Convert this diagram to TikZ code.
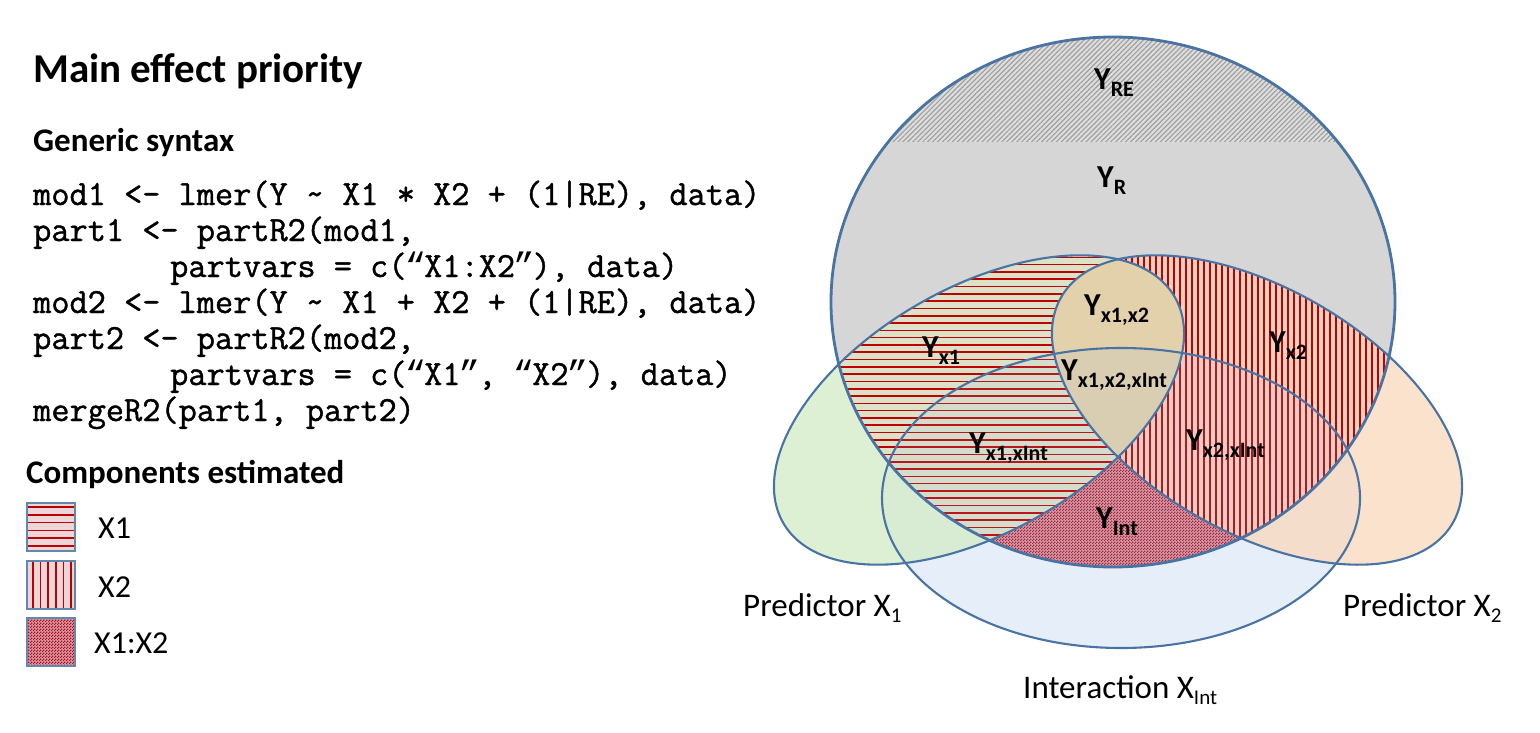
\documentclass[tikz,border=0pt]{standalone}
\usepackage{fontspec}
\setmainfont{Carlito}
\newfontfamily\codefont{Latin Modern Mono}[FakeBold=1.2]
\newfontfamily\quotefont{Liberation Mono}
\usepackage{tikz}
\usetikzlibrary{patterns,patterns.meta}
% colours
\definecolor{edgeblue}{RGB}{72,115,162}
\definecolor{respgray}{RGB}{214,214,214}
\definecolor{bandgray}{RGB}{222,222,222}
\definecolor{hatchgray}{RGB}{160,160,160}
\definecolor{xonegreen}{RGB}{211,235,198}
\definecolor{xtwopeach}{RGB}{250,216,188}
\definecolor{intblue}{RGB}{230,239,249}
\definecolor{inttint}{RGB}{150,185,225}
\definecolor{stripered}{RGB}{192,0,0}
\definecolor{xonebase}{RGB}{221,225,200}
\definecolor{xtwobase}{RGB}{244,210,194}
\definecolor{lenstan}{RGB}{227,209,172}
\definecolor{intbase}{RGB}{222,150,160}
\definecolor{checkred}{RGB}{165,15,35}
\definecolor{legendpink}{RGB}{236,214,216}
% fine checker for the interaction
\pgfdeclarepatternformonly{finecheck}{\pgfpointorigin}{\pgfqpoint{3pt}{3pt}}{\pgfqpoint{3pt}{3pt}}{
  \pgfpathrectangle{\pgfpointorigin}{\pgfqpoint{1.5pt}{1.5pt}}
  \pgfpathrectangle{\pgfqpoint{1.5pt}{1.5pt}}{\pgfqpoint{1.5pt}{1.5pt}}
  \pgfusepath{fill}}
% Y with a subscript, X with a subscript
\newcommand{\ysub}[1]{Y\raisebox{-7pt}{\fontsize{22}{22}\selectfont #1}}
\newcommand{\xsub}[1]{X\raisebox{-6pt}{\fontsize{21}{21}\selectfont #1}}
% curly quotes in a code cell
\newcommand{\oq}{\makebox[0.5em]{\quotefont “}}
\newcommand{\cq}{\makebox[0.5em]{\quotefont ”}}
\tikzset{
  outline/.style={draw=edgeblue, line width=2.1pt},
  redstripe/.style={draw=stripered, line width=1.6pt},
  ylab/.style={anchor=base west, inner sep=0pt, font=\fontsize{32}{32}\selectfont\bfseries},
  heading/.style={anchor=base west, inner sep=0pt, font=\fontsize{33}{33}\selectfont\bfseries},
  codeline/.style={anchor=base west, inner sep=0pt, font=\fontsize{35.3}{35.3}\selectfont\codefont},
  lbl/.style={anchor=base west, inner sep=0pt, font=\fontsize{32}{32}\selectfont},
  legbox/.style={draw=edgeblue!85, line width=1.2pt, minimum width=48pt, minimum height=48pt, inner sep=0pt},
}

\begin{document}
\begin{tikzpicture}[x=1pt,y=-1pt]
\useasboundingbox (0,0) rectangle (1540,733);
% Define coordinates
\coordinate (cR) at (1113,302);
\coordinate (cX1) at (979,410);
\coordinate (cX2) at (1257,410);
\coordinate (cInt) at (1121,498);
% Shapes
\def\rpath{(cR) ellipse [x radius=282, y radius=265]}
\def\xonepath{[rotate around={30:(cX1)}] (cX1) ellipse [x radius=226, y radius=122]}
\def\xtwopath{[rotate around={-30:(cX2)}] (cX2) ellipse [x radius=226, y radius=122]}
\def\intpath{(cInt) ellipse [x radius=239, y radius=150]}
% Fill predictors and interaction
\fill[intblue] \intpath;
\fill[xonegreen, fill opacity=.75] \xonepath;
\fill[xtwopeach, fill opacity=.75] \xtwopath;
% Fill response
\fill[respgray] \rpath;
\begin{scope}
  \clip \rpath;
  % random effect band
  \fill[bandgray] (820,30) rectangle (1410,142);
  \fill[pattern={Lines[angle=45, distance=3.5pt, line width=1.2pt]}, pattern color=hatchgray] (820,30) rectangle (1410,142);
  % interaction only
  \fill[intbase] \intpath;
  \fill[pattern=finecheck, pattern color=checkred] \intpath;
  % X1 stripes
  \begin{scope}
    \clip \xonepath;
    \fill[xonebase] (740,240) rectangle (1200,590);
    \foreach \i in {0,...,46}
      \draw[redstripe] (740,{250+7.3*\i}) -- (1200,{250+7.3*\i});
  \end{scope}
  % X2 stripes
  \begin{scope}
    \clip \xtwopath;
    \fill[xtwobase] (1030,240) rectangle (1490,590);
    \foreach \i in {0,...,75}
      \draw[redstripe] ({1036+6*\i},240) -- ({1036+6*\i},590);
  \end{scope}
  % shared part of X1 and X2
  \begin{scope}
    \clip \xonepath;
    \fill[lenstan] \xtwopath;
  \end{scope}
  \fill[inttint, fill opacity=.12] \intpath;
\end{scope}
% Draw outlines
\draw[outline] \intpath;
\draw[outline] \xonepath;
\draw[outline] \xtwopath;
\draw[outline, line width=2.8pt] \rpath;
% Region labels
\node[ylab] (yre) at (1094,90) {\ysub{RE}};
\node[ylab] (yr) at (1097,187) {\ysub{R}};
\node[ylab] (yxonextwo) at (1084,315) {\ysub{x1,x2}};
\node[ylab] (yxone) at (922,357) {\ysub{x1}};
\node[ylab] (yxtwo) at (1269,352) {\ysub{x2}};
\node[ylab] (yall) at (1061,380) {\ysub{x1,x2,xInt}};
\node[ylab] (yxoneint) at (969,453) {\ysub{x1,xInt}};
\node[ylab] (yxtwoint) at (1186,450) {\ysub{x2,xInt}};
\node[ylab] (yint) at (1096,528) {\ysub{Int}};
% Shape labels
\node[lbl, font=\fontsize{33}{33}\selectfont] (predone) at (743,616) {Predictor \xsub{1}};
\node[lbl, font=\fontsize{33}{33}\selectfont] (predtwo) at (1343,616) {Predictor \xsub{2}};
\node[lbl, font=\fontsize{33}{33}\selectfont] (interact) at (1023,698) {Interaction \xsub{Int}};
% Left panel
\node[heading, font=\fontsize{41}{41}\selectfont\bfseries] (title) at (33,83) {Main effect priority};
\node[heading] (syntax) at (33,152) {Generic syntax};
\node[codeline] (mod1) at (33,205) {mod1 <- lmer(Y \textasciitilde{} X1 * X2 + (1|RE), data)};
\node[codeline] (part1) at (33,241) {part1 <- partR2(mod1,};
\node[codeline] (vars1) at (170,277) {partvars = c(\oq X1:X2\cq), data)};
\node[codeline] (mod2) at (33,313) {mod2 <- lmer(Y \textasciitilde{} X1 + X2 + (1|RE), data)};
\node[codeline] (part2) at (33,349) {part2 <- partR2(mod2,};
\node[codeline] (vars2) at (170,385) {partvars = c(\oq X1\cq, \oq X2\cq), data)};
\node[codeline] (merge) at (33,421) {mergeR2(part1, part2)};
\node[heading] (comps) at (26,483) {Components estimated};
% Legend
\node[legbox, fill=legendpink, path picture={
    \foreach \i in {0,...,5}
      \draw[redstripe] ([yshift={-4pt-7.8pt*\i}]path picture bounding box.north west) -- ++(60,0);
  }] (legxone) at (51,527) {};
\node[legbox, fill=legendpink, path picture={
    \foreach \i in {0,...,5}
      \draw[redstripe] ([xshift={6pt+7.6pt*\i}]path picture bounding box.north west) -- ++(0,60);
  }] (legxtwo) at (51,585) {};
\node[legbox, preaction={fill=intbase}, pattern=finecheck, pattern color=checkred] (legint) at (51,642) {};
\node[lbl] (txone) at (98,538) {X1};
\node[lbl] (txtwo) at (98,597) {X2};
\node[lbl] (tint) at (94,653) {X1:X2};
\end{tikzpicture}
\end{document}
